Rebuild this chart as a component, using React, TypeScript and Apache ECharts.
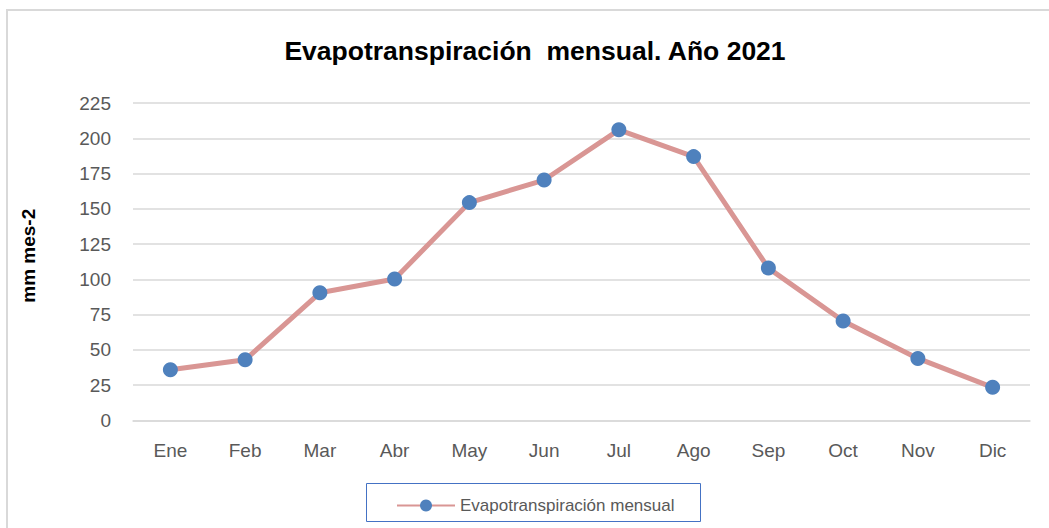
import React, { useEffect, useRef } from "react";
import * as echarts from "echarts";

const months = ["Ene", "Feb", "Mar", "Abr", "May", "Jun", "Jul", "Ago", "Sep", "Oct", "Nov", "Dic"];
const evapo = [36, 43, 90.5, 100.3, 154.4, 170.4, 206, 187, 108, 70.5, 44, 23.5];
const seriesName = "Evapotranspiración mensual";
const titleText = "Evapotranspiración  mensual. Año 2021";
const yAxisName = "mm mes-2";

export default function App() {
  const ref = useRef<HTMLDivElement>(null);
  useEffect(() => {
    if (!ref.current) return;
    const chart = echarts.init(ref.current, null, { renderer: "svg" });
    chart.setOption({
      animation: false,
      backgroundColor: "#ffffff",
      textStyle: { fontFamily: "Liberation Sans" },
      title: {
        text: titleText,
        left: 530,
        textAlign: "center",
        top: 32,
        textStyle: { fontSize: 26.5, fontWeight: "bold", color: "#000000", fontFamily: "Liberation Sans" },
      },
      graphic: [
        {
          type: "rect",
          shape: { x: 7, y: 10, width: 1100, height: 600 },
          style: { fill: "none", stroke: "#d9d9d9", lineWidth: 2 },
          silent: true,
          z: -1,
        },
        {
          type: "rect",
          shape: { x: 366.5, y: 483.5, width: 334, height: 38 },
          style: { fill: "none", stroke: "#4472c4", lineWidth: 1 },
          silent: true,
        },
      ],
      legend: {
        data: [seriesName],
        left: 391,
        top: 492,
        itemWidth: 58,
        itemHeight: 15,
        itemGap: 3,
        textStyle: { fontSize: 17, color: "#595959", fontFamily: "Liberation Sans" },
      },
      grid: { left: 133, right: 19, top: 103, bottom: 107.5, containLabel: false },
      xAxis: {
        type: "category",
        data: months,
        boundaryGap: true,
        axisLine: { show: true, lineStyle: { color: "#d9d9d9", width: 1.5 } },
        axisTick: { show: false },
        axisLabel: { fontSize: 19, color: "#595959", margin: 20 },
      },
      yAxis: {
        type: "value",
        min: 0,
        max: 225,
        interval: 25,
        name: yAxisName,
        nameLocation: "middle",
        nameGap: 95,
        nameRotate: 90,
        nameTextStyle: { fontSize: 19, fontWeight: "bold", color: "#000000", padding: [0, 0, 0, 12] },
        axisLine: { show: false },
        axisTick: { show: false },
        axisLabel: { fontSize: 19, color: "#595959", margin: 22 },
        splitLine: { lineStyle: { color: "#d9d9d9", width: 1.5 } },
      },
      series: [
        {
          name: seriesName,
          type: "line",
          data: evapo,
          symbol: "circle",
          symbolSize: 15,
          itemStyle: { color: "#4f81bd" },
          lineStyle: { color: "#d99694", width: 5 },
        },
      ],
    });
    return () => chart.dispose();
  }, []);
  return <div ref={ref} style={{ position: "fixed", left: 0, top: 0, width: 1049, height: 528 }} />;
}
